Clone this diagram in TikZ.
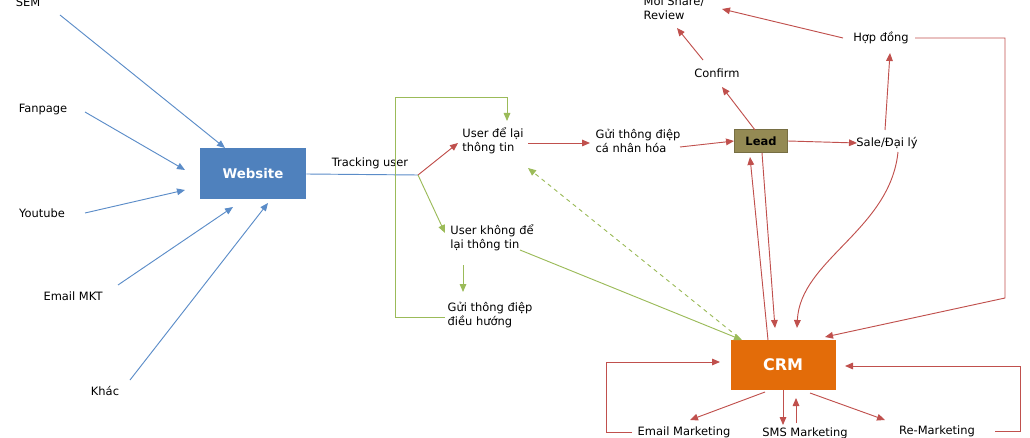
\documentclass[tikz,border=0pt]{standalone}
\usepackage{fontspec}
\setmainfont{DejaVu Sans}
\usetikzlibrary{arrows.meta}
\definecolor{bl}{HTML}{5B8CC8}
\definecolor{rd}{HTML}{C0504D}
\definecolor{gr}{HTML}{9BBB59}
\definecolor{wb}{HTML}{4F81BD}
\definecolor{ld}{HTML}{948A54}
\definecolor{cr}{HTML}{E36C09}
\begin{document}
\begin{tikzpicture}[x=0.75pt,y=-0.75pt,line width=0.7pt,
 t/.style={font=\fontsize{8.6}{10.5}\selectfont,align=left,inner sep=1pt},
 b/.style={draw=bl,-{Triangle[length=6pt,width=5pt]}},
 r/.style={draw=rd,-{Triangle[length=6pt,width=5pt]},fill=none},
 rl/.style={draw=rd},
 g/.style={draw=gr,-{Triangle[length=6pt,width=5pt]}},
 gl/.style={draw=gr}]
\useasboundingbox (0,0) rectangle (1030,438);
\node[t] (sem) at (28,2) {SEM};
\node[t] (fan) at (43,110) {Fanpage};
\node[t] (yt) at (42,213) {Youtube};
\node[t] (em) at (73,296) {Email MKT};
\node[t] (kh) at (105,391) {Khác};
\node[fill=wb,minimum width=106*0.75pt,minimum height=51*0.75pt,text=white,font=\bfseries\fontsize{10}{12}\selectfont] (web) at (253,174) {Website};
\coordinate (a1) at (60,15); \coordinate (a2) at (85,112); \coordinate (a3) at (85,213);
\coordinate (a4) at (118,285); \coordinate (a5) at (130,380);
\draw[b] (a1) -- (225,148); \draw[b] (a2) -- (185,170); \draw[b] (a3) -- (185,190);
\draw[b] (a4) -- (233,207); \draw[b] (a5) -- (268,203);
\coordinate (sp) at (418,175);
\draw[draw=bl] (web.east) -- (sp);
\node[t] at (370,163) {Tracking user};
\node[t] (u1) at (493,141) {User để lại\\thông tin};
\node[t] (u2) at (492,238) {User không để\\lại thông tin};
\node[t] (g2) at (490,315) {Gửi thông điệp\\điều hướng};
\node[t] (g1) at (638,141) {Gửi thông điệp\\cá nhân hóa};
\draw[r] (sp) -- (458,143);
\draw[g] (sp) -- (445,233);
\draw[g] (395,317) -- (395,97) -- (507,97) -- (507,121);
\draw[gl] (395,317) -- (445,317);
\draw[g] (463,265) -- (463,292);
\draw[r] (528,143) -- (590,143);
\node[fill=ld,draw=ld!80!black,minimum width=53*0.75pt,minimum height=23*0.75pt,font=\bfseries\fontsize{8.6}{10}\selectfont] (lead) at (761,141) {Lead};
\draw[r] (680,147) -- (lead.west);
\node[t] (conf) at (717,73) {Confirm};
\node[t] (moi) at (674,8) {Mời Share/\\Review};
\node[t] (hd) at (881,38) {Hợp đồng};
\node[t] (sale) at (887,143) {Sale/Đại lý};
\draw[r] (755,130) -- (722,87);
\draw[r] (703,60) -- (677,28);
\draw[r] (843,38) -- (722,9);
\draw[r] (lead.east) -- (857,143);
\draw[r] (885,130) -- (890,53);
\node[fill=cr,minimum width=105*0.75pt,minimum height=50*0.75pt,text=white,font=\bfseries\fontsize{12}{14}\selectfont] (crm) at (783,365) {CRM};
\draw[r] (915,38) -- (1005,38) -- (1005,298) -- (825,337);
\draw[r] (898,152) .. controls (890,230) and (800,260) .. (797,328);
\draw[r] (762,153) -- (775,328);
\draw[r] (768,340) -- (750,157);
\draw[g] (520,250) -- (742,340);
\draw[g,dashed] (738,337) -- (528,168);
\node[t] (eml) at (684,432) {Email Marketing};
\node[t] (sms) at (805,433) {SMS Marketing};
\node[t] (rem) at (937,431) {Re-Marketing};
\draw[r] (765,392) -- (690,420);
\draw[r] (783,390) -- (783,425);
\draw[r] (796,423) -- (796,398);
\draw[r] (810,393) -- (885,420);
\draw[r] (632,432) -- (606,432) -- (606,362) -- (720,362);
\draw[r] (995,431) -- (1020,431) -- (1020,366) -- (845,366);
\end{tikzpicture}
\end{document}
